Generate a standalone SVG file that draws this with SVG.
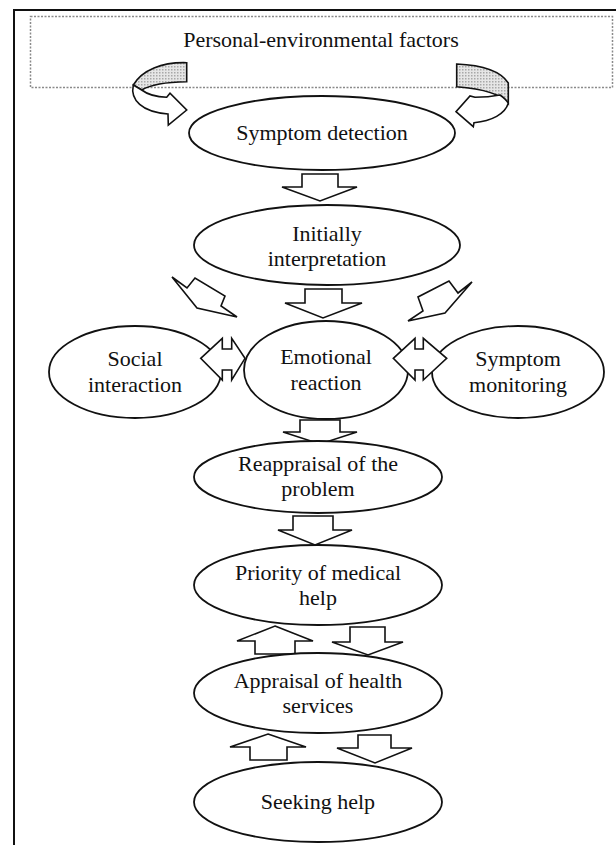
<svg xmlns="http://www.w3.org/2000/svg" width="616" height="845" viewBox="0 0 616 845">
<defs>
<pattern id="dots" width="3" height="3" patternUnits="userSpaceOnUse">
<rect width="3" height="3" fill="#e6e6e6"/>
<rect width="1.5" height="1.5" fill="#a8a8a8"/>
</pattern>
<style>
.node ellipse{fill:#fff;stroke:#111;stroke-width:1.8}
.lbl{font-family:"Liberation Serif","Times New Roman",serif;font-size:22px;fill:#111;text-anchor:middle}
.arr{fill:#fff;stroke:#111;stroke-width:1.6;stroke-linejoin:miter}
.shade{fill:url(#dots);stroke:#111;stroke-width:1.6}
</style>
</defs>
<rect x="0" y="0" width="616" height="845" fill="#fff"/>
<rect x="14" y="10" width="640" height="880" fill="none" stroke="#111" stroke-width="2"/>

<g id="factors">
<rect x="30.5" y="16.5" width="582" height="71" fill="none" stroke="#8a8a8a" stroke-width="1.5" stroke-dasharray="2,1.5"/>
<text class="lbl" x="321" y="47">Personal-environmental factors</text>
</g>

<g id="connectors">
<!-- curved arrows from factors -->
<path class="shade" d="M186.7,62.7 C162,62 142,70 133.3,85 L141.7,90 C150,85 166,82 186.7,81.7 Z"/>
<path class="arr" d="M133.3,85 C130,100 142,112 168,114 L168.3,125 L186.7,110 L170,93.3 L166.7,97.3 C156,97 147,94 141.7,90 Z"/>
<path class="shade" d="M456.7,64 C480,65 500,70 508.3,83 L508.3,103.3 C502,95 485,89 456.7,86.7 Z"/>
<path class="arr" d="M500,95 C490,97 482,97.3 475,97.3 L470,96 L456,111.7 L473.3,126.7 L474,122.7 C492,121 505,114 508.3,103.3 C506,99 503,97 500,95 Z"/>
<!-- vertical arrows -->
<polygon class="arr" points="302,174 338,174 338,187 357,187 320,201 282,187 302,187"/>
<polygon class="arr" points="305,289 342,289 342,303 362,303 323,318 285,303 305,303"/>
<polygon class="arr" points="172,277 187,288 195,278 225,296 221,306 237,317 197,308"/>
<polygon class="arr" points="472,282 458,293 449,281 418,297 423,311 408,321 445,313"/>
<polygon class="arr" points="300,420 340,420 340,432 357,432 320,444 283,432 300,432"/>
<polygon class="arr" points="293,516 333,516 333,530 352,530 315,545 278,530 293,530"/>
<polygon class="arr" points="275,626 313,641 295,641 295,654 255,654 255,641 237,641"/>
<polygon class="arr" points="350,627 385,627 385,642 403,642 368,655 332,642 350,642"/>
<polygon class="arr" points="268,734 306,747 287,747 287,760 250,760 250,747 230,747"/>
<polygon class="arr" points="358,735 391,735 391,748 412,748 375,763 337,748 358,748"/>
</g>

<g id="symptom-detection" class="node">
<ellipse cx="322" cy="133" rx="133" ry="37"/>
<text class="lbl" x="322" y="140">Symptom detection</text>
</g>
<g id="initially-interpretation" class="node">
<ellipse cx="327" cy="245" rx="133" ry="40"/>
<text class="lbl" x="327" y="241">Initially</text>
<text class="lbl" x="327" y="266">interpretation</text>
</g>
<g id="social-interaction" class="node">
<ellipse cx="135" cy="372" rx="86" ry="46"/>
<text class="lbl" x="135" y="366">Social</text>
<text class="lbl" x="135" y="392">interaction</text>
</g>
<g id="emotional-reaction" class="node">
<ellipse cx="326" cy="370" rx="82" ry="49"/>
<text class="lbl" x="326" y="364">Emotional</text>
<text class="lbl" x="326" y="390">reaction</text>
</g>
<g id="symptom-monitoring" class="node">
<ellipse cx="518" cy="372" rx="86" ry="46"/>
<text class="lbl" x="518" y="366">Symptom</text>
<text class="lbl" x="518" y="392">monitoring</text>
</g>
<g id="reappraisal" class="node">
<ellipse cx="318" cy="477" rx="124" ry="36"/>
<text class="lbl" x="318" y="471">Reappraisal of the</text>
<text class="lbl" x="318" y="496">problem</text>
</g>
<g id="priority" class="node">
<ellipse cx="318" cy="585" rx="124" ry="40"/>
<text class="lbl" x="318" y="580">Priority of medical</text>
<text class="lbl" x="318" y="605">help</text>
</g>
<g id="appraisal" class="node">
<ellipse cx="318" cy="693" rx="124" ry="40"/>
<text class="lbl" x="318" y="688">Appraisal of health</text>
<text class="lbl" x="318" y="713">services</text>
</g>
<g id="seeking-help" class="node">
<ellipse cx="318" cy="802" rx="124" ry="40"/>
<text class="lbl" x="318" y="809">Seeking help</text>
</g>

<g id="double-arrows">
<polygon class="arr" points="200.7,358.3 222.3,338.3 222.3,349 231.7,349 231.7,338.3 245,358.3 231.7,380 231.7,370 222.3,370 222.3,380"/>
<polygon class="arr" points="393.3,358.3 415,338.3 415,349 423.3,349 423.3,338.3 446.7,358.3 423.3,380 423.3,370 415,370 415,380"/>
</g>
</svg>
